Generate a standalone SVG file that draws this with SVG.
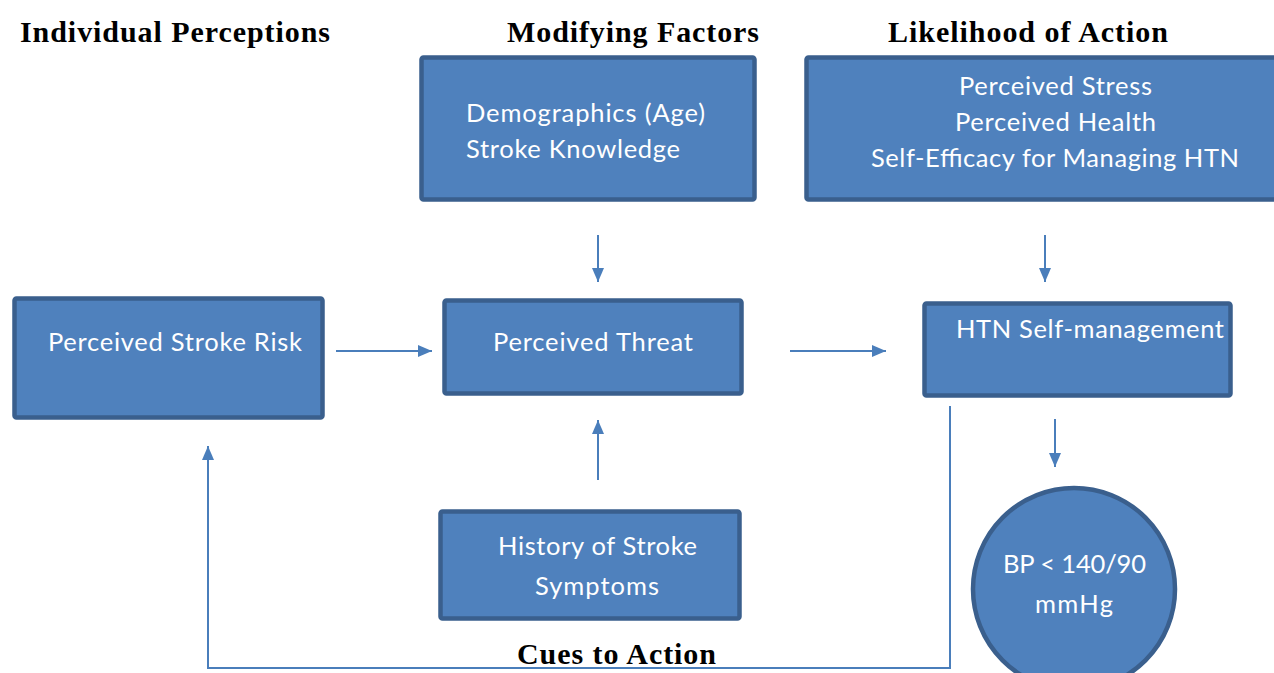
<svg xmlns="http://www.w3.org/2000/svg" width="1274" height="673" viewBox="0 0 1274 673">
<defs>
<style>
.box{fill:#4f81bd;stroke:#3a5f8d;stroke-width:4.5}
.t{font-family:Lato,"Open Sans",sans-serif;font-size:25.5px;fill:#ffffff}
.h{font-family:"Liberation Serif","Times New Roman",serif;font-size:30px;font-weight:bold;fill:#000000}
.c{fill:none;stroke:#4a7ebb;stroke-width:2}
</style>
<marker id="ah" viewBox="0 0 14 12" refX="14" refY="6" markerWidth="14" markerHeight="12" markerUnits="userSpaceOnUse" orient="auto">
<path d="M0,0 L14,6 L0,12 Z" fill="#4a7ebb"/>
</marker>
</defs>
<rect width="1274" height="673" fill="#ffffff"/>
<g id="headings">
<text class="h" x="20" y="42" textLength="310">Individual Perceptions</text>
<text class="h" x="507" y="42" textLength="252">Modifying Factors</text>
<text class="h" x="888" y="42" textLength="280">Likelihood of Action</text>
<text class="h" x="517" y="664" textLength="199">Cues to Action</text>
</g>
<g id="modifying">
<rect class="box" x="421.5" y="57.5" width="333" height="142" rx="2"/>
<text class="t" x="466" y="122" textLength="239">Demographics (Age)</text>
<text class="t" x="466" y="158" textLength="214">Stroke Knowledge</text>
</g>
<g id="likelihood">
<rect class="box" x="806.5" y="57.5" width="475" height="142" rx="2"/>
<text class="t" x="959" y="95" textLength="193">Perceived Stress</text>
<text class="t" x="955" y="131" textLength="201">Perceived Health</text>
<text class="t" x="871" y="167" textLength="368">Self-Efficacy for Managing HTN</text>
</g>
<g id="risk">
<rect class="box" x="14.5" y="298.5" width="308" height="119" rx="2"/>
<text class="t" x="48" y="351" textLength="254">Perceived Stroke Risk</text>
</g>
<g id="threat">
<rect class="box" x="444.5" y="300.5" width="297" height="93" rx="2"/>
<text class="t" x="493" y="351" textLength="200">Perceived Threat</text>
</g>
<g id="htn">
<rect class="box" x="924.5" y="303.5" width="306" height="92" rx="2"/>
<text class="t" x="956" y="338" textLength="268">HTN Self-management</text>
</g>
<g id="history">
<rect class="box" x="440.5" y="511.5" width="299" height="107" rx="2"/>
<text class="t" x="498" y="555" textLength="199">History of Stroke</text>
<text class="t" x="535" y="595" textLength="124">Symptoms</text>
</g>
<g id="bp">
<circle class="box" cx="1074" cy="589" r="101"/>
<text class="t" x="1003" y="573" textLength="143">BP &lt; 140/90</text>
<text class="t" x="1035" y="613" textLength="78">mmHg</text>
</g>
<g id="connectors">
<line class="c" x1="336" y1="351" x2="432" y2="351" marker-end="url(#ah)"/>
<line class="c" x1="790" y1="351" x2="886" y2="351" marker-end="url(#ah)"/>
<line class="c" x1="598" y1="235" x2="598" y2="282" marker-end="url(#ah)"/>
<line class="c" x1="1045" y1="235" x2="1045" y2="282" marker-end="url(#ah)"/>
<line class="c" x1="598" y1="480" x2="598" y2="420" marker-end="url(#ah)"/>
<line class="c" x1="1055" y1="419" x2="1055" y2="467" marker-end="url(#ah)"/>
<polyline class="c" points="950,406 950,668 208,668 208,446" marker-end="url(#ah)"/>
</g>
</svg>
